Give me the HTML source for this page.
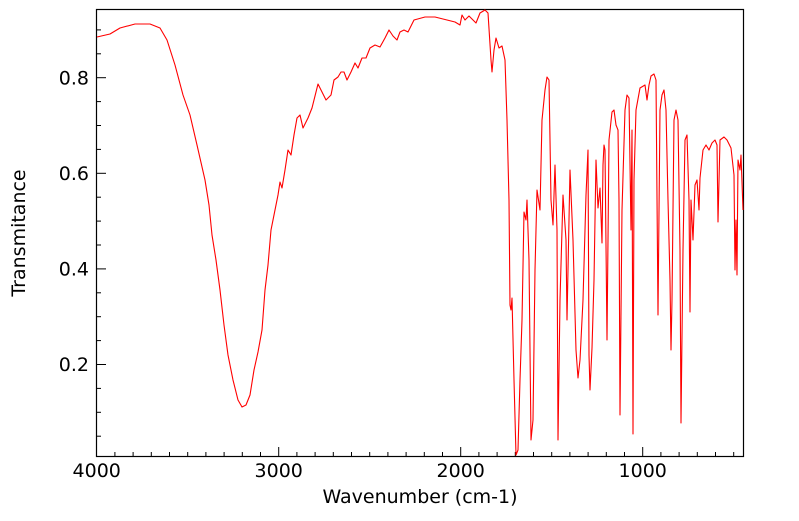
<!DOCTYPE html>
<html><head><style>
body{margin:0;background:#fff;width:799px;height:516px;overflow:hidden;font-family:"Liberation Sans","DejaVu Sans",sans-serif}
</style></head><body>
<svg width="799" height="516" xmlns="http://www.w3.org/2000/svg" font-family="DejaVu Sans, Liberation Sans, sans-serif">
<rect x="96.5" y="9.5" width="647" height="447" fill="#fff" stroke="#000" stroke-width="1.2"/>
<g stroke="#000" stroke-width="1">
<line x1="96" y1="77.7" x2="106" y2="77.7"/><line x1="96" y1="173.3" x2="106" y2="173.3"/>
<line x1="96" y1="268.9" x2="106" y2="268.9"/><line x1="96" y1="364.5" x2="106" y2="364.5"/>
<line x1="96" y1="29.9" x2="101" y2="29.9"/><line x1="96" y1="53.8" x2="101" y2="53.8"/>
<line x1="96" y1="101.6" x2="101" y2="101.6"/><line x1="96" y1="125.5" x2="101" y2="125.5"/><line x1="96" y1="149.4" x2="101" y2="149.4"/>
<line x1="96" y1="197.2" x2="101" y2="197.2"/><line x1="96" y1="221.1" x2="101" y2="221.1"/><line x1="96" y1="245" x2="101" y2="245"/>
<line x1="96" y1="292.8" x2="101" y2="292.8"/><line x1="96" y1="316.7" x2="101" y2="316.7"/><line x1="96" y1="340.6" x2="101" y2="340.6"/>
<line x1="96" y1="388.4" x2="101" y2="388.4"/><line x1="96" y1="412.3" x2="101" y2="412.3"/><line x1="96" y1="436.2" x2="101" y2="436.2"/>
<line x1="278.7" y1="457" x2="278.7" y2="447"/><line x1="460.7" y1="457" x2="460.7" y2="447"/><line x1="642.7" y1="457" x2="642.7" y2="447"/>
</g>
<g stroke="#000" stroke-width="1">
<line x1="114.9" y1="457" x2="114.9" y2="452"/><line x1="133.1" y1="457" x2="133.1" y2="452"/><line x1="151.3" y1="457" x2="151.3" y2="452"/><line x1="169.5" y1="457" x2="169.5" y2="452"/><line x1="187.7" y1="457" x2="187.7" y2="452"/><line x1="205.9" y1="457" x2="205.9" y2="452"/><line x1="224.1" y1="457" x2="224.1" y2="452"/><line x1="242.3" y1="457" x2="242.3" y2="452"/><line x1="260.5" y1="457" x2="260.5" y2="452"/>
<line x1="296.9" y1="457" x2="296.9" y2="452"/><line x1="315.1" y1="457" x2="315.1" y2="452"/><line x1="333.3" y1="457" x2="333.3" y2="452"/><line x1="351.5" y1="457" x2="351.5" y2="452"/><line x1="369.7" y1="457" x2="369.7" y2="452"/><line x1="387.9" y1="457" x2="387.9" y2="452"/><line x1="406.1" y1="457" x2="406.1" y2="452"/><line x1="424.3" y1="457" x2="424.3" y2="452"/><line x1="442.5" y1="457" x2="442.5" y2="452"/>
<line x1="478.9" y1="457" x2="478.9" y2="452"/><line x1="497.1" y1="457" x2="497.1" y2="452"/><line x1="515.3" y1="457" x2="515.3" y2="452"/><line x1="533.5" y1="457" x2="533.5" y2="452"/><line x1="551.7" y1="457" x2="551.7" y2="452"/><line x1="569.9" y1="457" x2="569.9" y2="452"/><line x1="588.1" y1="457" x2="588.1" y2="452"/><line x1="606.3" y1="457" x2="606.3" y2="452"/><line x1="624.5" y1="457" x2="624.5" y2="452"/>
<line x1="660.9" y1="457" x2="660.9" y2="452"/><line x1="679.1" y1="457" x2="679.1" y2="452"/><line x1="697.3" y1="457" x2="697.3" y2="452"/><line x1="715.5" y1="457" x2="715.5" y2="452"/><line x1="733.7" y1="457" x2="733.7" y2="452"/>
</g>
<g font-size="19" fill="#000">
<text x="89" y="84.5" text-anchor="end">0.8</text>
<text x="89" y="180" text-anchor="end">0.6</text>
<text x="89" y="275.5" text-anchor="end">0.4</text>
<text x="89" y="371" text-anchor="end">0.2</text>
<text x="96.7" y="477" text-anchor="middle">4000</text>
<text x="278.7" y="477" text-anchor="middle">3000</text>
<text x="460.7" y="477" text-anchor="middle">2000</text>
<text x="642.7" y="477" text-anchor="middle">1000</text>
<text x="420" y="503" text-anchor="middle">Wavenumber (cm-1)</text>
<text transform="translate(25,233) rotate(-90)" text-anchor="middle">Transmitance</text>
</g>
<polyline fill="none" stroke="#ff0000" stroke-width="1.1" stroke-linejoin="round" points="97,37 110,34 120,28 135,24 150,24 160,28 167,40 175,65 183,95 190,115 197,145 205,180 209,205 212,235 216,260 220,290 224,325 228,355 233,380 238,400 242,407 246,405 250,395 254,370 258,352 262,330 265,290 268,265 271,230 274,215 278,195 280,182 282,188 285,170 288,150 291,155 294,135 297,118 300,115 303,128 308,118 312,108 316,92 318,84 321,90 326,100 331,95 334,80 338,77 341,72 344,72 347,80 351,72 355,63 358,68 362,58 366,58 370,48 375,45 380,47 385,38 389,30 393,36 397,40 400,32 404,30 408,32 414,20 425,17 435,17 447,20 455,22 460,25 462,15 465,20 469,16 473,20 476,23 480,13 485,10 488,13 491,60 492,72 494,50 496,38 499,48 502,46 505,60 507,120 509,200 510,305 511,310 512,298 514,380 516,455 518,450 520,380 522,320 524,212 526,220 527,200 529,260 531,440 533,420 535,270 537,190 540,210 542,120 545,90 547,77 549,80 551,200 553,225 555,165 557,230 558,440 560,300 563,195 566,240 567,320 570,170 573,240 576,350 578,378 580,360 583,300 586,195 588,150 589,355 590,390 592,348 594,280 596,160 598,208 600,188 602,243 603,165 604,145 605,150 607,340 609,140 612,112 614,110 616,125 618,130 619,200 620,415 622,210 625,110 627,95 629,98 631,230 632,130 633,434 634,180 636,110 640,88 645,85 647,100 649,85 651,76 654,74 656,80 658,315 660,110 662,95 664,90 666,110 668,200 670,280 671,350 672,300 674,120 676,110 678,120 680,250 681,423 683,250 685,140 687,135 689,200 690,312 691,200 693,240 695,185 697,180 699,210 700,178 703,150 706,145 709,150 712,143 715,140 717,145 718,222 720,140 724,137 727,140 731,148 734,175 735,270 736,220 737,275 738,160 740,170 741,155 743,210"/>
</svg>
</body></html>
